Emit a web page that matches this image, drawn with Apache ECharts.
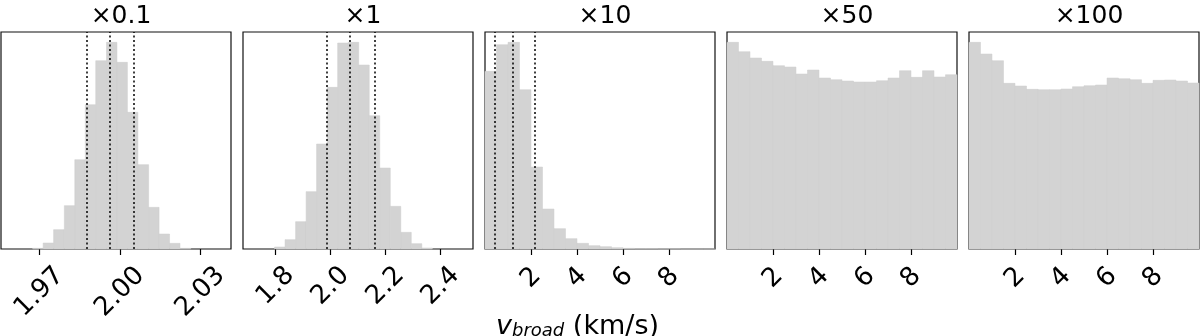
<!DOCTYPE html>
<html>
<head>
<meta charset="utf-8">
<script src="https://cdn.jsdelivr.net/npm/echarts@6/dist/echarts.min.js"></script>
<style>
  html, body { margin: 0; padding: 0; background: #fff; }
  #chart { width: 1200px; height: 336px; }
</style>
</head>
<body>
<div id="chart"></div>
<script>
// panel titles (scale factor)
const titles = ["×0.1", "×1", "×10", "×50", "×100"];

// x ranges of each panel
const xMin = [1.9557, 1.6814, 0, 0, 0];
const xMax = [2.0414, 2.5174, 10, 10, 10];

// tick values and decimals shown on labels
const ticks = [
  [1.97, 2.00, 2.03],
  [1.8, 2.0, 2.2, 2.4],
  [2, 4, 6, 8],
  [2, 4, 6, 8],
  [2, 4, 6, 8],
];
const tickDecimals = [2, 1, 0, 0, 0];

// histogram bin edges
const edges1 = [1.9675, 1.9714, 1.9753, 1.9793, 1.9832, 1.9871, 1.9910, 1.9950, 1.9989,
  2.0028, 2.0067, 2.0107, 2.0146, 2.0185, 2.0224, 2.0264];
const edges2 = [1.7961, 1.8343, 1.8726, 1.9108, 1.9490, 1.9873, 2.0255, 2.0637, 2.1020,
  2.1402, 2.1784, 2.2167, 2.2549, 2.2931, 2.3314, 2.3696];
const edgesWide = [0, 0.5, 1, 1.5, 2, 2.5, 3, 3.5, 4, 4.5, 5, 5.5, 6, 6.5, 7, 7.5, 8, 8.5, 9, 9.5, 10];

// histogram counts (relative)
const counts1 = [2, 18, 58, 130, 268, 433, 565, 620, 560, 410, 253, 125, 45, 17, 2];
const counts2 = [6, 28, 82, 172, 315, 485, 618, 620, 552, 400, 243, 128, 50, 16, 3];
const counts10 = [533, 613, 620, 478, 246, 120, 61, 31, 17, 10, 7, 4, 2, 1, 1, 0.5, 0.5, 0, 0, 0];
const counts50 = [620, 592, 573, 563, 550, 546, 525, 537, 513, 508, 504, 501, 501, 505, 513,
  535, 515, 535, 516, 523];
const counts100 = [620, 585, 565, 497, 489, 479, 478, 478, 480, 487, 490, 492, 513, 511, 508,
  497, 506, 507, 504, 498];

// quantile lines (dotted)
const quantiles = [
  [1.9876, 1.9963, 2.0053],
  [1.985, 2.071, 2.162],
  [0.42, 1.2, 2.155],
  [],
  [],
];

const edges = [edges1, edges2, edgesWide, edgesWide, edgesWide];
const counts = [counts1, counts2, counts10, counts50, counts100];

const FONT = "DejaVu Sans";
const labelMargin = [43, 37, 29, 29, 29];
const panelLeft = (i) => 1 + 242 * i;
const panelW = 230;

const chart = echarts.init(document.getElementById("chart"), null, { renderer: "canvas" });

const grids = [], xAxes = [], yAxes = [], series = [], titleList = [];
for (let i = 0; i < 5; i++) {
  grids.push({
    left: panelLeft(i), width: panelW, top: 32, height: 217,
    show: true, borderColor: "#111", borderWidth: 1.2, backgroundColor: "transparent",
  });
  const dec = tickDecimals[i];
  xAxes.push({
    type: "value", gridIndex: i, min: xMin[i], max: xMax[i],
    axisLine: { show: false },
    splitLine: { show: false },
    axisTick: {
      show: true, customValues: ticks[i], length: 6, inside: false,
      lineStyle: { color: "#000", width: 1.2 },
    },
    axisLabel: {
      show: true, customValues: ticks[i], rotate: 45,
      align: "center", verticalAlign: "middle", margin: labelMargin[i],
      fontFamily: FONT, fontSize: 26, color: "#000",
      formatter: (v) => Number(v).toFixed(dec),
    },
  });
  yAxes.push({
    type: "value", gridIndex: i, min: 0, max: Math.max(...counts[i]) * 1.05,
    show: false,
  });
  const data = counts[i].map((c, k) => [edges[i][k], edges[i][k + 1], c]);
  series.push({
    type: "custom", xAxisIndex: i, yAxisIndex: i,
    data: data,
    encode: { x: [0, 1], y: 2 },
    animation: false,
    silent: true,
    renderItem: (params, api) => {
      const p0 = api.coord([api.value(0), 0]);
      const p1 = api.coord([api.value(1), api.value(2)]);
      return {
        type: "rect",
        shape: { x: p0[0], y: p1[1], width: p1[0] - p0[0], height: p0[1] - p1[1] },
        style: { fill: "#d3d3d3", stroke: "#cdcdcd", lineWidth: 0.5 },
      };
    },
    markLine: {
      silent: true,
      precision: 5,
      symbol: ["none", "none"],
      animation: false,
      label: { show: false },
      lineStyle: { color: "#000", type: [2, 2.5], width: 1.5 },
      data: quantiles[i].map((q) => ({ xAxis: q })),
    },
  });
  titleList.push({
    text: titles[i],
    left: panelLeft(i) + panelW / 2, top: -1, textAlign: "center",
    textStyle: { fontFamily: FONT, fontSize: 25, fontWeight: "normal", color: "#000" },
  });
}

chart.setOption({
  animation: false,
  backgroundColor: "#fff",
  title: titleList,
  grid: grids,
  xAxis: xAxes,
  yAxis: yAxes,
  series: series,
  graphic: [{
    type: "text",
    left: 496, top: 313,
    style: {
      text: "{v|v}{s|broad} (km/s)",
      font: "27px DejaVu Sans",
      fill: "#000",
      rich: {
        v: { fontFamily: FONT, fontStyle: "italic", fontSize: 27, fill: "#000" },
        s: { fontFamily: FONT, fontStyle: "italic", fontSize: 18, fill: "#000", verticalAlign: "bottom" },
      },
    },
  }],
});
</script>
</body>
</html>
